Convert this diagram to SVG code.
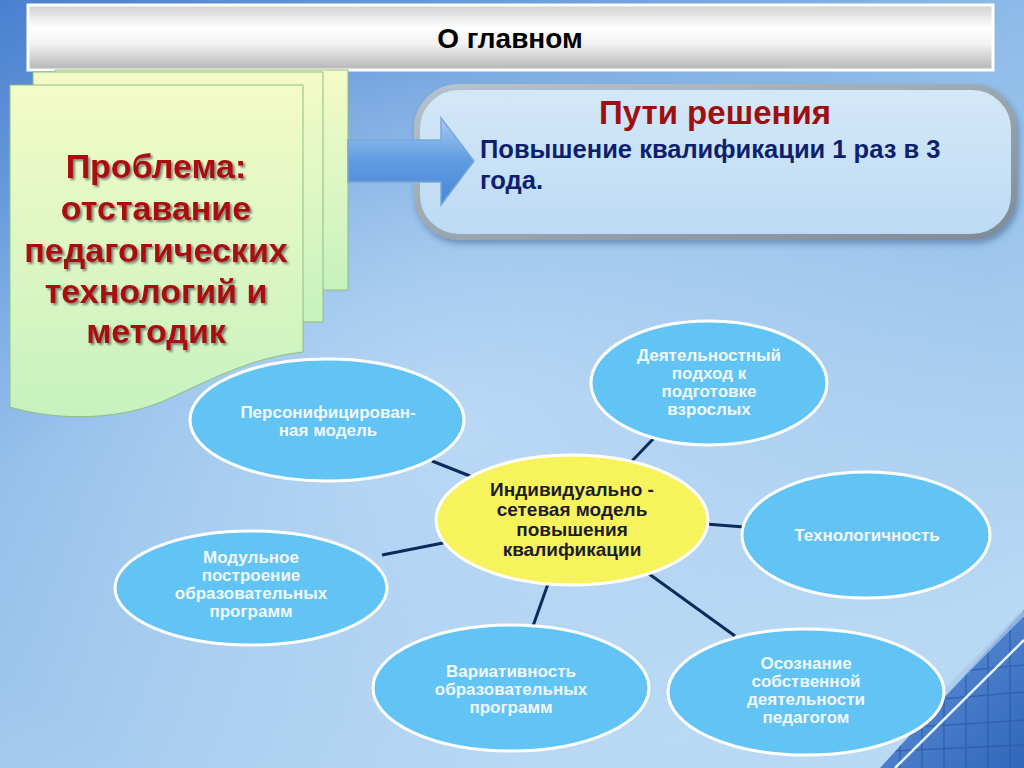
<svg xmlns="http://www.w3.org/2000/svg" width="1024" height="768" viewBox="0 0 1024 768">
<defs>
<linearGradient id="bg" x1="0" y1="0" x2="0.6" y2="1">
<stop offset="0" stop-color="#4a80cf"/>
<stop offset="0.45" stop-color="#8dbbe9"/>
<stop offset="1" stop-color="#b8d8f3"/>
</linearGradient>
<radialGradient id="glow" cx="0.45" cy="0.55" r="0.55">
<stop offset="0" stop-color="#cfe6fa" stop-opacity="0.6"/>
<stop offset="1" stop-color="#cfe6fa" stop-opacity="0"/>
</radialGradient>
<linearGradient id="titleG" x1="0" y1="0" x2="0" y2="1">
<stop offset="0" stop-color="#d0d0d0"/>
<stop offset="0.35" stop-color="#ffffff"/>
<stop offset="0.6" stop-color="#f2f2f2"/>
<stop offset="1" stop-color="#b4b4b4"/>
</linearGradient>
<linearGradient id="pageG" x1="0" y1="0" x2="0" y2="1">
<stop offset="0" stop-color="#f4fbc6"/>
<stop offset="1" stop-color="#c6f2c0"/>
</linearGradient>
<linearGradient id="boxG" x1="0" y1="0" x2="0" y2="1">
<stop offset="0" stop-color="#d4e8f8"/>
<stop offset="1" stop-color="#bcdaf3"/>
</linearGradient>
<linearGradient id="boxStroke" x1="0" y1="0" x2="1" y2="1">
<stop offset="0" stop-color="#b7c3cc"/>
<stop offset="1" stop-color="#7d8c98"/>
</linearGradient>
<linearGradient id="arrowG" x1="0" y1="0" x2="0" y2="1">
<stop offset="0" stop-color="#a8cbf2"/>
<stop offset="0.5" stop-color="#5e9be0"/>
<stop offset="1" stop-color="#4a86d4"/>
</linearGradient>
<linearGradient id="bldG" x1="0" y1="0" x2="1" y2="1">
<stop offset="0" stop-color="#6b9de0"/>
<stop offset="1" stop-color="#2f64b8"/>
</linearGradient>
<filter id="tshadow" x="-10%" y="-10%" width="130%" height="130%">
<feDropShadow dx="2" dy="2" stdDeviation="1" flood-color="#555" flood-opacity="0.7"/>
</filter>
<filter id="boxShadow" x="-10%" y="-10%" width="120%" height="130%">
<feDropShadow dx="2" dy="4" stdDeviation="3" flood-color="#2a4f80" flood-opacity="0.45"/>
</filter>
<clipPath id="bldClip">
<polygon points="880,768 1024,610 1024,768"/>
</clipPath>
</defs>
<style>
.bub{fill:#62c4f4;stroke:#ffffff;stroke-width:3}
.core{fill:#f7f35c;stroke:#ffffff;stroke-width:3}
.bt{font-family:"Liberation Sans",Arial,sans-serif;font-weight:bold;font-size:17px;fill:#f2f8ff;text-anchor:middle}
.ct{font-family:"Liberation Sans",Arial,sans-serif;font-weight:bold;font-size:19px;fill:#1c1c2c;text-anchor:middle}
.page{fill:url(#pageG);stroke:#8fbf7a;stroke-width:1}
.conn{stroke:#0c2b5c;stroke-width:3;fill:none}
</style>

<!-- background -->
<rect x="0" y="0" width="1024" height="768" fill="url(#bg)"/>
<rect x="0" y="0" width="1024" height="768" fill="url(#glow)"/>
<g clip-path="url(#bldClip)">
<rect x="870" y="600" width="160" height="170" fill="url(#bldG)"/>
<g stroke="#2a5aa8" stroke-width="1.5" opacity="0.7">
<line x1="900" y1="600" x2="900" y2="768"/><line x1="922" y1="600" x2="922" y2="768"/>
<line x1="944" y1="600" x2="944" y2="768"/><line x1="966" y1="600" x2="966" y2="768"/>
<line x1="988" y1="600" x2="988" y2="768"/><line x1="1010" y1="600" x2="1010" y2="768"/>
<line x1="870" y1="680" x2="1024" y2="665"/><line x1="870" y1="705" x2="1024" y2="692"/>
<line x1="870" y1="730" x2="1024" y2="720"/><line x1="870" y1="752" x2="1024" y2="745"/>
</g>
</g>
<line x1="895" y1="768" x2="1024" y2="640" stroke="#e6f2ff" stroke-width="2.5"/>
<line x1="900" y1="738" x2="1024" y2="612" stroke="#a9c9ee" stroke-width="6" opacity="0.7"/>

<!-- title -->
<g id="title">
<rect x="28" y="5" width="965" height="65" fill="url(#titleG)" stroke="#ffffff" stroke-width="3"/>
<text x="510" y="48" font-family="Liberation Sans, Arial, sans-serif" font-weight="bold" font-size="28" fill="#000" text-anchor="middle">О главном</text>
</g>

<!-- problem note -->
<g id="problem">
<path class="page" d="M55,70 L348,70 L348,290 L55,290 Z"/>
<path class="page" d="M33,72 L323,72 L323,322 L33,322 Z"/>
<path class="page" d="M10,85 L303,85 L303,352 C250,358 215,378 170,398 C125,420 60,422 10,407 Z"/>
<g font-family="Liberation Sans, Arial, sans-serif" font-weight="bold" font-size="34" fill="#aa0808" text-anchor="middle" filter="url(#tshadow)">
<text x="156" y="178">Проблема:</text>
<text x="156" y="220">отставание</text>
<text x="156" y="262">педагогических</text>
<text x="156" y="303">технологий и</text>
<text x="156" y="343">методик</text>
</g>
</g>

<!-- solutions box -->
<g id="solutions">
<rect x="417" y="87" width="597" height="150" rx="42" ry="42" fill="url(#boxG)" stroke="url(#boxStroke)" stroke-width="6" filter="url(#boxShadow)"/>
<text x="715" y="124" font-family="Liberation Sans, Arial, sans-serif" font-weight="bold" font-size="33" fill="#9e0f0f" text-anchor="middle">Пути решения</text>
<text font-family="Liberation Sans, Arial, sans-serif" font-weight="bold" font-size="25.5" fill="#0d1f6e"><tspan x="480" y="158">Повышение квалификации 1 раз в 3</tspan><tspan x="480" y="189">года.</tspan></text>
</g>

<!-- block arrow -->
<g id="arrow">
<path d="M348,140 L441,140 L441,118 L474,161 L441,205 L441,182 L348,182 Z" fill="url(#arrowG)" stroke="#7aa8dc" stroke-width="1.5"/>
</g>

<!-- connectors -->
<g id="connectors">
<line class="conn" x1="432" y1="461" x2="470" y2="476"/>
<line class="conn" x1="631" y1="462" x2="655" y2="437"/>
<line class="conn" x1="706" y1="524" x2="744" y2="527"/>
<line class="conn" x1="382" y1="555" x2="448" y2="542"/>
<line class="conn" x1="549" y1="581" x2="533" y2="626"/>
<line class="conn" x1="645" y1="571" x2="735" y2="636"/>
</g>

<!-- nodes -->
<g id="n-person">
<ellipse class="bub" cx="327" cy="420" rx="137" ry="61"/>
<text class="bt"><tspan x="328" y="418">Персонифицирован-</tspan><tspan x="328" y="436">ная модель</tspan></text>
</g>
<g id="n-activity">
<ellipse class="bub" cx="709" cy="383" rx="118" ry="62"/>
<text class="bt"><tspan x="709" y="361">Деятельностный</tspan><tspan x="709" y="379">подход к</tspan><tspan x="709" y="397">подготовке</tspan><tspan x="709" y="415">взрослых</tspan></text>
</g>
<g id="n-center">
<ellipse class="core" cx="572" cy="520" rx="136" ry="65"/>
<text class="ct"><tspan x="572" y="496">Индивидуально -</tspan><tspan x="572" y="516">сетевая модель</tspan><tspan x="572" y="536">повышения</tspan><tspan x="572" y="556">квалификации</tspan></text>
</g>
<g id="n-tech">
<ellipse class="bub" cx="866" cy="535" rx="124" ry="63"/>
<text class="bt" x="867" y="541">Технологичность</text>
</g>
<g id="n-module">
<ellipse class="bub" cx="251" cy="588" rx="136" ry="57"/>
<text class="bt"><tspan x="251" y="563">Модульное</tspan><tspan x="251" y="581">построение</tspan><tspan x="251" y="599">образовательных</tspan><tspan x="251" y="617">программ</tspan></text>
</g>
<g id="n-variat">
<ellipse class="bub" cx="511" cy="688" rx="138" ry="63"/>
<text class="bt"><tspan x="511" y="677">Вариативность</tspan><tspan x="511" y="695">образовательных</tspan><tspan x="511" y="713">программ</tspan></text>
</g>
<g id="n-aware">
<ellipse class="bub" cx="806" cy="692" rx="138" ry="63"/>
<text class="bt"><tspan x="806" y="669">Осознание</tspan><tspan x="806" y="687">собственной</tspan><tspan x="806" y="705">деятельности</tspan><tspan x="806" y="723">педагогом</tspan></text>
</g>
</svg>
